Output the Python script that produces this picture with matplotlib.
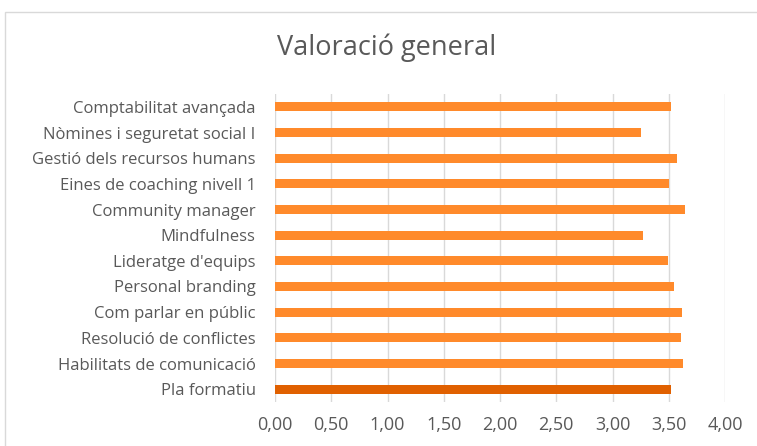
import matplotlib.pyplot as plt
from matplotlib.patches import Rectangle

plt.rcParams['font.family'] = ['Open Sans', 'DejaVu Sans']

# dades (de dalt a baix, com al gràfic)
cursos = ['Comptabilitat avançada', 'Nòmines i seguretat social I',
          'Gestió dels recursos humans', 'Eines de coaching nivell 1',
          'Community manager', 'Mindfulness', "Lideratge d'equips",
          'Personal branding', 'Com parlar en públic',
          'Resolució de conflictes', 'Habilitats de comunicació',
          'Pla formatiu']
valoracio = [3.52, 3.25, 3.57, 3.50, 3.645, 3.27, 3.49, 3.545, 3.62, 3.605, 3.625, 3.52]
ticks_x = [0, 0.5, 1.0, 1.5, 2.0, 2.5, 3.0, 3.5, 4.0]

text_color = '#595959'
colors = ['#FF8A2B'] * (len(cursos) - 1) + ['#E06000']

fig = plt.figure(figsize=(7.57, 4.46), dpi=100)
ax = fig.add_axes([275 / 757, 1 - 402 / 446, 450 / 757, 308 / 446])

# marc del gràfic
fig.patches.append(Rectangle((5 / 757, -0.05), 1.1, 1 - 12 / 446 + 0.05,
                             transform=fig.transFigure, fill=False,
                             edgecolor='#D9D9D9', linewidth=1))

y = list(range(len(cursos)))
ax.barh(y, valoracio, height=0.36, color=colors, zorder=3)
ax.set_ylim(len(cursos) - 0.5, -0.5)
ax.set_xlim(0, 4)
ax.set_yticks(y)
ax.set_yticklabels(cursos, fontsize=12, color=text_color)
ax.set_xticks(ticks_x)
ax.set_xticklabels([f'{t:.2f}'.replace('.', ',') for t in ticks_x],
                   fontsize=13, color=text_color)
ax.tick_params(axis='y', length=0, pad=14)
ax.tick_params(axis='x', length=0, pad=10)
ax.grid(axis='x', color='#D9D9D9', linewidth=1, zorder=0)
for s in ax.spines.values():
    s.set_visible(False)

fig.text(387 / 757, 1 - 48 / 446, 'Valoració general', fontsize=19.5,
         color=text_color, ha='center', va='center')

fig.savefig('out.png', dpi=100)
